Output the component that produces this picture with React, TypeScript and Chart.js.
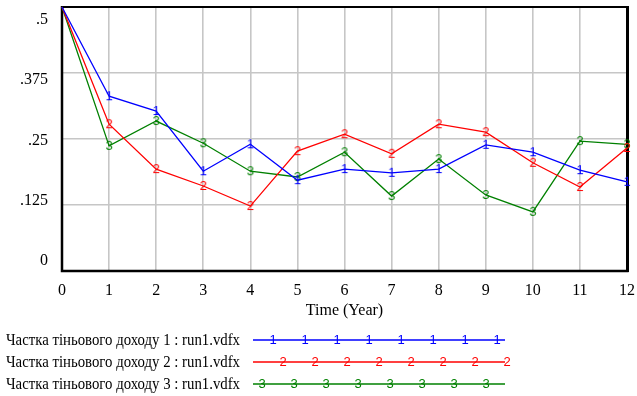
import React, { useEffect, useRef } from "react";
import { Chart, registerables } from "chart.js";

Chart.register(...registerables);

// ---- data ----
const years = [0, 1, 2, 3, 4, 5, 6, 7, 8, 9, 10, 11, 12];
const series1 = [0.5, 0.331, 0.303, 0.189, 0.24, 0.172, 0.193, 0.186, 0.193, 0.239, 0.225, 0.191, 0.169];
const series2 = [0.5, 0.278, 0.193, 0.161, 0.123, 0.227, 0.259, 0.222, 0.278, 0.263, 0.205, 0.159, 0.233];
const series3 = [0.5, 0.237, 0.284, 0.242, 0.189, 0.178, 0.225, 0.142, 0.212, 0.144, 0.112, 0.246, 0.24];
const seriesLabels = [
  "Частка тіньового доходу 1 : run1.vdfx",
  "Частка тіньового доходу 2 : run1.vdfx",
  "Частка тіньового доходу 3 : run1.vdfx",
];
const seriesMarkers = ["1", "2", "3"];
const seriesColors = ["#0000ff", "#ff0000", "#008000"];
const xAxisTitle = "Time (Year)";
const yMin = 0;
const yMax = 0.5;
const yStep = 0.125;

const SERIF = "'Liberation Serif', 'Times New Roman', serif";
const SANS = "'Liberation Sans', Arial, sans-serif";

function fmtY(v: number): string {
  if (v === 0) return "0";
  return String(+v.toFixed(3)).replace(/^0/, "");
}

function makeMarker(ch: string, color: string): HTMLCanvasElement {
  const c = document.createElement("canvas");
  c.width = 10;
  c.height = 14;
  const ctx = c.getContext("2d")!;
  ctx.fillStyle = color;
  ctx.font = `13px ${SANS}`;
  ctx.textAlign = "center";
  ctx.textBaseline = "middle";
  ctx.fillText(ch, 5, 7.5);
  return c;
}

export default function App() {
  const ref = useRef<HTMLCanvasElement>(null);

  useEffect(() => {
    document.body.style.margin = "0";
    const markerImgs = seriesMarkers.map((m, i) => makeMarker(m, seriesColors[i]));
    const allSeries = [series1, series2, series3];

    const decor = {
      id: "decor",
      beforeDatasetsDraw(chart: any) {
        const { ctx, chartArea } = chart;
        const { left, right, top, bottom } = chartArea;
        ctx.save();
        ctx.strokeStyle = "#000";
        ctx.lineWidth = 2;
        ctx.beginPath();
        ctx.moveTo(left - 1, top);
        ctx.lineTo(right, top);
        ctx.stroke();
        ctx.lineWidth = 2.5;
        ctx.beginPath();
        ctx.moveTo(left, top - 1);
        ctx.lineTo(left, bottom);
        ctx.lineTo(right + 1.5, bottom);
        ctx.stroke();
        ctx.lineWidth = 3;
        ctx.beginPath();
        ctx.moveTo(right + 0.5, top - 1);
        ctx.lineTo(right + 0.5, bottom + 1);
        ctx.stroke();
        ctx.restore();
      },
      afterDraw(chart: any) {
        const { ctx, chartArea } = chart;
        const { left, right, top, bottom } = chartArea;
        ctx.save();
        // y tick labels (Vensim style spacing)
        const yScale = chart.scales.y;
        const ticks = yScale.ticks.slice().sort((a: any, b: any) => b.value - a.value);
        const n = ticks.length;
        const y0 = top + 13;
        const y1 = bottom - 10;
        ctx.fillStyle = "#000";
        ctx.font = `16px ${SERIF}`;
        ctx.textAlign = "right";
        ctx.textBaseline = "middle";
        ticks.forEach((t: any, i: number) => {
          const y = y0 + (i * (y1 - y0)) / (n - 1);
          ctx.fillText(fmtY(t.value), left - 14, y);
        });
        // x axis title
        ctx.textAlign = "center";
        ctx.fillText(xAxisTitle, (left + right) / 2, 311);
        // legend
        const lineX0 = 253;
        const lineX1 = 505;
        const starts = [273, 283, 262];
        chart.data.datasets.forEach((ds: any, i: number) => {
          const y = 340 + i * 22;
          ctx.fillStyle = "#000";
          ctx.textAlign = "left";
          ctx.textBaseline = "middle";
          ctx.font = `16px ${SERIF}`;
          ctx.fillText(ds.label, 6, y + 1, 234);
          ctx.strokeStyle = ds.borderColor;
          ctx.lineWidth = 1.3;
          ctx.beginPath();
          ctx.moveTo(lineX0, y);
          ctx.lineTo(lineX1, y);
          ctx.stroke();
          const img = markerImgs[i];
          for (let k = 0; k < 8; k++) {
            const mx = starts[i] + k * 32;
            ctx.drawImage(img, mx - img.width / 2, y - img.height / 2);
          }
        });
        ctx.restore();
      },
    };

    const chart = new Chart(ref.current!, {
      type: "line",
      data: {
        datasets: allSeries.map((s, i) => ({
          label: seriesLabels[i],
          data: years.map((x, k) => ({ x, y: s[k] })),
          borderColor: seriesColors[i],
          backgroundColor: seriesColors[i],
          borderWidth: 1.3,
          pointStyle: markerImgs[i] as any,
          pointRadius: years.map((_, k) => (k === 0 ? 0 : 5)),
          pointHoverRadius: 5,
          tension: 0,
          fill: false,
          clip: false as any,
        })),
      },
      options: {
        responsive: false,
        animation: false,
        events: [],
        layout: { padding: { left: 0, top: 7, right: 10, bottom: 0 } },
        plugins: {
          legend: { display: false },
          tooltip: { enabled: false },
          title: { display: false },
        },
        scales: {
          x: {
            type: "linear",
            min: years[0],
            max: years[years.length - 1],
            border: { display: false },
            grid: { color: "#c6c6c6", lineWidth: 1.6, drawTicks: false },
            ticks: {
              stepSize: 1,
              padding: 10,
              color: "#000",
              font: { family: SERIF, size: 16 },
              maxRotation: 0,
              autoSkip: false,
            },
            afterFit(scale: any) {
              scale.height = 125;
              scale.paddingLeft = 0;
              scale.paddingRight = 0;
            },
          },
          y: {
            min: yMin,
            max: yMax,
            border: { display: false },
            grid: { color: "#c6c6c6", lineWidth: 1.6, drawTicks: false },
            ticks: { stepSize: yStep, display: false, callback: (v: any) => fmtY(+v) },
            afterFit(scale: any) {
              scale.width = 62;
              scale.paddingTop = 0;
              scale.paddingBottom = 0;
            },
          },
        },
      },
      plugins: [decor],
    });
    return () => chart.destroy();
  }, []);

  return (
    <div style={{ width: 637, height: 396, background: "#fff" }}>
      <canvas ref={ref} width={637} height={396} style={{ display: "block" }} />
    </div>
  );
}
